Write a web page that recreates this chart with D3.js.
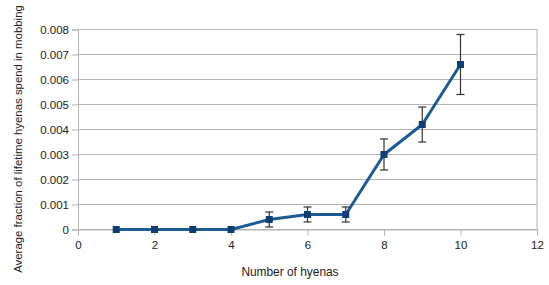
<!DOCTYPE html>
<html>
<head>
<meta charset="utf-8">
<script src="https://cdn.jsdelivr.net/npm/d3@7"></script>
<style>
  body { margin: 0; background: #fff; }
  text { font-family: "Liberation Sans", Arial, sans-serif; }
</style>
</head>
<body>
<svg id="chart"></svg>
<script>
// chart size
const width = 549;
const height = 285;

// data
const hyenas = [1, 2, 3, 4, 5, 6, 7, 8, 9, 10];
const mobbing = [0, 0, 0, 0, 0.0004, 0.0006, 0.0006, 0.003, 0.0042, 0.0066];
const errors = [0, 0, 0, 0, 0.0003, 0.0003, 0.0003, 0.00062, 0.0007, 0.0012];
const xTicks = [0, 2, 4, 6, 8, 10, 12];
const yTicks = [0, 0.001, 0.002, 0.003, 0.004, 0.005, 0.006, 0.007, 0.008];

const margin = { top: 29.5, right: 12, bottom: 55.5, left: 78 };

const svg = d3.select("#chart")
    .attr("width", width)
    .attr("height", height);

const x = d3.scaleLinear().domain([0, 12]).range([margin.left, width - margin.right]);
const y = d3.scaleLinear().domain([0, 0.008]).range([height - margin.bottom, margin.top]);

// horizontal gridlines
svg.append("g")
    .selectAll("line")
    .data(yTicks)
    .enter().append("line")
    .attr("x1", margin.left)
    .attr("x2", width - margin.right)
    .attr("y1", d => y(d))
    .attr("y2", d => y(d))
    .attr("stroke", "#b3b3b3")
    .attr("stroke-width", 1);

// right border of plot
svg.append("line")
    .attr("x1", width - margin.right).attr("x2", width - margin.right)
    .attr("y1", y(0.008)).attr("y2", y(0))
    .attr("stroke", "#b3b3b3");

// y axis
const yAxis = svg.append("g")
    .attr("transform", `translate(${margin.left},0)`)
    .call(d3.axisLeft(y).tickValues(yTicks).tickSize(6).tickPadding(3)
        .tickFormat(d => d === 0 ? "0" : d3.format(".3f")(d)));
yAxis.select(".domain").attr("stroke", "#b3b3b3");
yAxis.selectAll(".tick line").attr("stroke", "#b3b3b3");
yAxis.selectAll("text").attr("font-size", 11.5).attr("fill", "#222");

// x axis
const xAxis = svg.append("g")
    .attr("transform", `translate(0,${y(0)})`)
    .call(d3.axisBottom(x).tickValues(xTicks).tickSize(6).tickPadding(5));
xAxis.select(".domain").attr("stroke", "#b3b3b3");
xAxis.selectAll(".tick line").attr("stroke", "#b3b3b3");
xAxis.selectAll("text").attr("font-size", 11.5).attr("fill", "#222");

// axis titles
svg.append("text")
    .attr("x", 290)
    .attr("y", 276)
    .attr("text-anchor", "middle")
    .attr("font-size", 11.9)
    .attr("fill", "#222")
    .text("Number of hyenas");

svg.append("text")
    .attr("transform", `translate(22,139) rotate(-90)`)
    .attr("text-anchor", "middle")
    .attr("font-size", 11.4)
    .attr("fill", "#222")
    .text("Average fraction of lifetime hyenas spend in mobbing");

const points = hyenas.map((h, i) => ({ x: h, y: mobbing[i], e: errors[i] }));

// line
svg.append("path")
    .datum(points)
    .attr("fill", "none")
    .attr("stroke", "#1c5a96")
    .attr("stroke-width", 3)
    .attr("stroke-linejoin", "round")
    .attr("d", d3.line().x(d => x(d.x)).y(d => y(d.y)));

// error bars
const eb = svg.append("g")
    .selectAll("g")
    .data(points.filter(d => d.e > 0))
    .enter().append("g")
    .attr("stroke", "#333")
    .attr("stroke-width", 1.2);
eb.append("line")
    .attr("x1", d => x(d.x)).attr("x2", d => x(d.x))
    .attr("y1", d => y(d.y - d.e)).attr("y2", d => y(d.y + d.e));
eb.append("line")
    .attr("x1", d => x(d.x) - 4).attr("x2", d => x(d.x) + 4)
    .attr("y1", d => y(d.y - d.e)).attr("y2", d => y(d.y - d.e));
eb.append("line")
    .attr("x1", d => x(d.x) - 4).attr("x2", d => x(d.x) + 4)
    .attr("y1", d => y(d.y + d.e)).attr("y2", d => y(d.y + d.e));

// square markers
svg.append("g")
    .selectAll("rect")
    .data(points)
    .enter().append("rect")
    .attr("x", d => x(d.x) - 3.5)
    .attr("y", d => y(d.y) - 3.5)
    .attr("width", 7)
    .attr("height", 7)
    .attr("fill", "#0e3f73");
</script>
</body>
</html>
